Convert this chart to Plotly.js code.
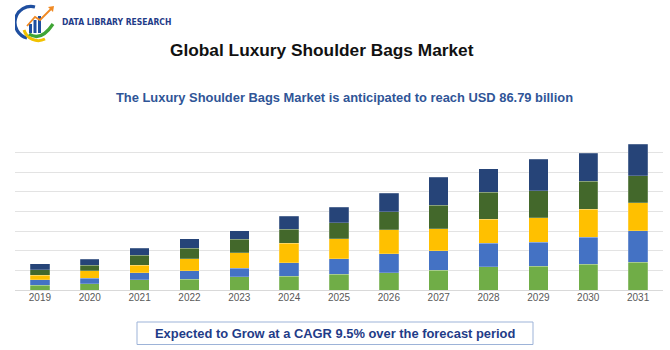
<!DOCTYPE html>
<html>
<head>
<meta charset="utf-8">
<script src="https://cdn.plot.ly/plotly-3.0.1.min.js"></script>
<style>
html,body{margin:0;padding:0;background:#fff;}
#wrap{position:relative;width:670px;height:350px;}
#chart{position:absolute;left:0;top:0;width:670px;height:350px;}
#logo{position:absolute;left:15px;top:2px;width:46px;height:42px;}
</style>
</head>
<body>
<div id="wrap">
<div id="chart"></div>
<svg id="logo" viewBox="0 0 46 42">
  <path d="M20 5 A16 16 0 0 0 12 36" fill="none" stroke="#1F4FA0" stroke-width="3.2"/>
  <path d="M9 28 A15 15 0 0 0 30 37" fill="none" stroke="#F2C200" stroke-width="3"/>
  <path d="M14 32 Q26 40 38 22" fill="none" stroke="#3FA535" stroke-width="3.2"/>
  <rect x="14" y="22" width="3" height="9" fill="#1F4FA0"/>
  <rect x="18.5" y="18" width="3" height="13" fill="#1F4FA0"/>
  <rect x="23" y="14" width="3" height="17" fill="#1F4FA0"/>
  <path d="M12 24 L20 15 L25 18 L36 7" fill="none" stroke="#F08A24" stroke-width="1.8"/>
  <path d="M33 5 L39 4 L38 10 Z" fill="#F08A24"/>
</svg>
</div>
<script>
var years = ['2019','2020','2021','2022','2023','2024','2025','2026','2027','2028','2029','2030','2031'];
var seg1 = [2.4, 3.3, 5.1, 5.6, 6.7, 7.0, 8.1, 8.9, 10.1, 11.8, 12.2, 13.0, 14.2];
var seg2 = [2.9, 2.6, 3.6, 4.1, 4.5, 6.8, 7.8, 9.7, 9.9, 12.0, 12.2, 13.8, 15.9];
var seg3 = [2.2, 3.9, 3.9, 6.2, 7.8, 9.9, 10.3, 12.1, 11.3, 12.3, 12.5, 14.4, 14.4];
var seg4 = [2.9, 2.9, 5.0, 5.5, 6.9, 7.2, 8.1, 9.1, 11.8, 13.8, 13.8, 14.2, 13.8];
var seg5 = [3.1, 2.9, 3.6, 4.6, 4.3, 6.8, 7.8, 9.6, 14.4, 11.8, 15.9, 14.2, 15.9];
var segColors = ['#70AD47', '#4472C4', '#FFC000', '#43682B', '#264478'];
var segs = [seg1, seg2, seg3, seg4, seg5];

var traces = segs.map(function(s, i){
  return {
    type: 'bar', x: years, y: s,
    marker: {color: segColors[i], line: {color: 'rgba(255,255,255,0.35)', width: 0.6}},
    hoverinfo: 'x+y'
  };
});

var layout = {
  width: 670, height: 350,
  margin: {l: 15, r: 7, t: 133, b: 60},
  barmode: 'stack',
  bargap: 0.61,
  showlegend: false,
  paper_bgcolor: '#ffffff',
  plot_bgcolor: '#ffffff',
  font: {family: 'Open Sans, Liberation Sans, sans-serif'},
  xaxis: {
    type: 'category',
    tickfont: {size: 10, color: '#595959', family: 'Liberation Sans, Arial, sans-serif'},
    showline: false, ticks: '', showgrid: false
  },
  yaxis: {
    range: [0, 80], dtick: 10, showticklabels: false,
    gridcolor: '#e3e3e3', gridwidth: 1,
    zeroline: true, zerolinecolor: '#d9d9d9', zerolinewidth: 1,
    fixedrange: true
  },
  annotations: [
    {text: '<b>DATA LIBRARY RESEARCH</b>', xref: 'paper', yref: 'paper', x: (60-15)/648, y: 0, showarrow: false,
     xanchor: 'left', yanchor: 'middle', font: {family: 'DejaVu Sans Condensed, DejaVu Sans', size: 8.5, color: '#1F3C88'},
     yshift: 268},
    {text: '<b>Global Luxury Shoulder Bags Market</b>', xref: 'paper', yref: 'paper', x: 0.5, y: 0, showarrow: false,
     xanchor: 'center', yanchor: 'middle', font: {family: 'Liberation Sans, Arial, sans-serif', size: 17.3, color: '#111111'},
     xshift: -17, yshift: 240},
    {text: '<b>The Luxury Shoulder Bags Market is anticipated to reach USD 86.79 billion</b>', xref: 'paper', yref: 'paper', x: 0.5, y: 0, showarrow: false,
     xanchor: 'center', yanchor: 'middle', font: {family: 'Liberation Sans, Arial, sans-serif', size: 12.9, color: '#2F5597'},
     xshift: 5, yshift: 193},
    {text: '<b>Expected to Grow at a CAGR 9.5% over the forecast period</b>', xref: 'paper', yref: 'paper', x: 0.5, y: 0, showarrow: false,
     xanchor: 'center', yanchor: 'middle', font: {family: 'Liberation Sans, Arial, sans-serif', size: 12.9, color: '#1F3C88'},
     xshift: -4, yshift: -43}
  ],
  shapes: [
    {type: 'rect', xref: 'paper', yref: 'paper', x0: (137-15)/648, x1: (533-15)/648, y0: -54.5/157, y1: -32/157,
     line: {color: '#9DB3D8', width: 1}, fillcolor: 'rgba(0,0,0,0)'}
  ]
};

Plotly.newPlot('chart', traces, layout, {displayModeBar: false, staticPlot: true});
</script>
</body>
</html>
